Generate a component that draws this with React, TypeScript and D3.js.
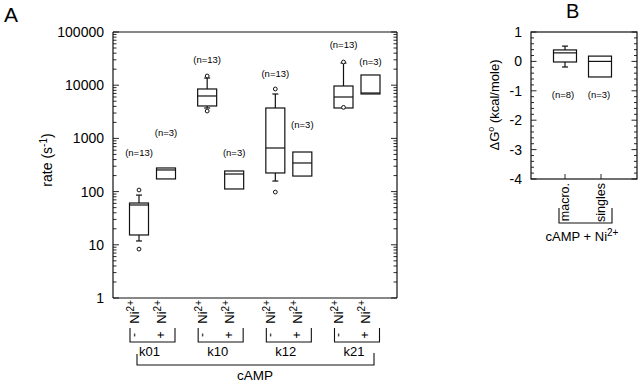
import React from "react";
import * as d3 from "d3";

// ---------- Panel A data ----------
const groups = ["k01", "k10", "k12", "k21"];
const conditions = ["-", "+"];
// boxes in order: k01-, k01+, k10-, k10+, k12-, k12+, k21-, k21+
const rateQ1 = [15.3, 173, 4070, 112, 224, 196, 3730, 6840];
const rateMedian = [56, 255, 6270, 214, 660, 345, 6000, 7130];
const rateQ3 = [61, 278, 8490, 244, 3730, 555, 9660, 15560];
const rateWhiskerLow: (number | null)[] = [11.8, null, 3730, null, 158, null, null, null];
const rateWhiskerHigh: (number | null)[] = [86, null, 13650, null, 6840, null, 26100, null];
const rateOutliers: number[][] = [[107, 8.3], [], [14900, 3270], [], [8490, 98], [], [27300, 3830], []];
const rateN = [13, 3, 13, 3, 13, 3, 13, 3];
const rateNLabelAt = [532, 1318, 29800, 555, 16250, 1786, 57000, 27300];
const rateTickLabels = ["1", "10", "100", "1000", "10000", "100000"];

// ---------- Panel B data ----------
const dgCategories = ["macro.", "singles"];
const dgQ1 = [-0.02, -0.53];
const dgMedian = [0.29, 0.0];
const dgQ3 = [0.39, 0.18];
const dgWhiskerLow: (number | null)[] = [-0.19, null];
const dgWhiskerHigh: (number | null)[] = [0.52, null];
const dgN = [8, 3];
const dgNLabelAt = [-1.14, -1.14];
const dgTickLabels = ["-4", "-3", "-2", "-1", "0", "1"];

const FONT = "'Liberation Sans', Arial, Helvetica, sans-serif";

export default function App() {
  // Panel A scales
  const yA = d3.scaleLog().domain([1, 1e5]).range([298, 32]);
  const xGroup = d3.scalePoint<string>().domain(groups).range([152.5, 357]);
  const xSub = d3.scalePoint<string>().domain(conditions).range([-13.5, 13.5]);
  const aLeft = 113, aRight = 397, aTop = 32, aBottom = 298;
  const boxW = 19;

  const boxesA = groups.flatMap((g, gi) =>
    conditions.map((c, ci) => {
      const i = gi * 2 + ci;
      return { g, c, i, x: (xGroup(g) as number) + (xSub(c) as number) };
    })
  );

  const logTicks = yA.ticks();

  // Panel B scales
  const yB = d3.scaleLinear().domain([-4, 1]).range([179, 32]);
  const xB = d3.scalePoint<string>().domain(dgCategories).range([565, 601]);
  const bLeft = 531, bRight = 637, bTop = 32, bBottom = 179;
  const boxWB = 23;
  const linTicks = d3.range(-4, 1.0001, 0.2).map((v) => Math.round(v * 10) / 10);

  const stroke = "#111";

  const renderBox = (
    key: string,
    x: number,
    w: number,
    q1: number,
    med: number,
    q3: number,
    wl: number | null,
    wh: number | null,
    outs: number[],
    y: (v: number) => number
  ) => (
    <g key={key} stroke={stroke} strokeWidth={1.2} fill="none">
      {wh !== null && (
        <>
          <line x1={x} x2={x} y1={y(q3)} y2={y(wh)} />
          <line x1={x - 3} x2={x + 3} y1={y(wh)} y2={y(wh)} />
        </>
      )}
      {wl !== null && (
        <>
          <line x1={x} x2={x} y1={y(q1)} y2={y(wl)} />
          <line x1={x - 3} x2={x + 3} y1={y(wl)} y2={y(wl)} />
        </>
      )}
      <rect x={x - w / 2} y={y(q3)} width={w} height={y(q1) - y(q3)} />
      <line x1={x - w / 2} x2={x + w / 2} y1={y(med)} y2={y(med)} />
      {outs.map((o, k) => (
        <circle key={k} cx={x} cy={y(o)} r={1.9} strokeWidth={1} fill="white" />
      ))}
    </g>
  );

  return (
    <svg
      width={640}
      height={383}
      style={{ position: "absolute", left: 0, top: 0, background: "white" }}
      fontFamily={FONT}
    >
      <rect width={640} height={383} fill="white" />
      {/* Panel letters */}
      <text x={4} y={22} fontSize={21}>A</text>
      <text x={566} y={18} fontSize={20}>B</text>

      {/* ---------- Panel A ---------- */}
      <g stroke={stroke} strokeWidth={1.2} fill="none">
        <line x1={aLeft} x2={aLeft} y1={aTop} y2={aBottom} />
        <line x1={aRight} x2={aRight} y1={aTop} y2={aBottom} />
        <line x1={aLeft} x2={aRight} y1={aTop} y2={aTop} />
        <line x1={aLeft} x2={aRight} y1={aBottom} y2={aBottom} />
      </g>
      <g stroke={stroke} strokeWidth={0.9}>
        {logTicks.map((t, k) => {
          const major = Math.abs(Math.log10(t) - Math.round(Math.log10(t))) < 1e-9;
          const len = major ? 6 : 3.5;
          return (
            <g key={k}>
              <line x1={aLeft} x2={aLeft + len} y1={yA(t)} y2={yA(t)} />
              <line x1={aRight} x2={aRight - len} y1={yA(t)} y2={yA(t)} />
            </g>
          );
        })}
      </g>
      {rateTickLabels.map((lbl) => (
        <text key={lbl} x={104} y={yA(+lbl)} fontSize={14} textAnchor="end" dominantBaseline="central">
          {lbl}
        </text>
      ))}
      <text transform={`translate(52,160) rotate(-90)`} fontSize={14} textAnchor="middle">
        rate (s
        <tspan fontSize={10} dy={-5}>-1</tspan>
        <tspan dy={5}>)</tspan>
      </text>

      {boxesA.map((b) =>
        renderBox(
          `a${b.i}`,
          b.x,
          boxW,
          rateQ1[b.i],
          rateMedian[b.i],
          rateQ3[b.i],
          rateWhiskerLow[b.i],
          rateWhiskerHigh[b.i],
          rateOutliers[b.i],
          (v) => yA(v)
        )
      )}
      {boxesA.map((b) => (
        <text
          key={`n${b.i}`}
          x={b.x}
          y={yA(rateNLabelAt[b.i])}
          fontSize={9.5}
          textAnchor="middle"
          dominantBaseline="central"
        >
          (n={rateN[b.i]})
        </text>
      ))}

      {/* x labels A */}
      {boxesA.map((b) => (
        <g key={`xl${b.i}`}>
          <text transform={`translate(${b.x - 0.5},300) rotate(-90)`} fontSize={13} textAnchor="end">
            Ni<tspan fontSize={10} dy={-5}>2+</tspan>
          </text>
          <text transform={`translate(${b.x - 1.5},335) rotate(-90)`} fontSize={12} textAnchor="middle">
            {b.c}
          </text>
        </g>
      ))}
      {groups.map((g) => {
        const cx = xGroup(g) as number;
        return (
          <g key={`br${g}`}>
            <path
              d={`M${cx - 22.5},328 V342 H${cx + 22.5} V328`}
              fill="none"
              stroke={stroke}
              strokeWidth={1.1}
            />
            <text x={cx - 3} y={356} fontSize={13} textAnchor="middle">
              {g}
            </text>
          </g>
        );
      })}
      <path
        d={`M${(xGroup("k01") as number) - 15.5},354 V365 H${(xGroup("k21") as number) + 17} V353`}
        fill="none"
        stroke={stroke}
        strokeWidth={1.1}
      />
      <text x={255} y={380} fontSize={13.5} textAnchor="middle">cAMP</text>

      {/* ---------- Panel B ---------- */}
      <g stroke={stroke} strokeWidth={1.2} fill="none">
        <rect x={bLeft} y={bTop} width={bRight - bLeft} height={bBottom - bTop} />
      </g>
      <g stroke={stroke} strokeWidth={0.9}>
        {linTicks.map((t, k) => {
          const major = Math.abs(t - Math.round(t)) < 1e-6;
          const len = major ? 5.5 : 3;
          return (
            <g key={k}>
              <line x1={bLeft} x2={bLeft + len} y1={yB(t)} y2={yB(t)} />
              <line x1={bRight} x2={bRight - len} y1={yB(t)} y2={yB(t)} />
            </g>
          );
        })}
        {dgCategories.map((c) => (
          <line key={c} x1={xB(c) as number} x2={xB(c) as number} y1={bBottom} y2={bBottom - 5} />
        ))}
      </g>
      {dgTickLabels.map((lbl) => (
        <text key={lbl} x={522} y={yB(+lbl)} fontSize={14} textAnchor="end" dominantBaseline="central">
          {lbl}
        </text>
      ))}
      <text transform={`translate(499,105) rotate(-90)`} fontSize={13} textAnchor="middle">
        ΔG<tspan fontSize={9} dy={-5}>o</tspan>
        <tspan dy={5}> (kcal/mole)</tspan>
      </text>
      {dgCategories.map((c, i) =>
        renderBox(
          `b${i}`,
          (xB(c) as number) + (i === 1 ? -1 : 0),
          boxWB,
          dgQ1[i],
          dgMedian[i],
          dgQ3[i],
          dgWhiskerLow[i],
          dgWhiskerHigh[i],
          [],
          (v) => yB(v)
        )
      )}
      {dgCategories.map((c, i) => (
        <text
          key={`bn${i}`}
          x={(xB(c) as number) - 2}
          y={yB(dgNLabelAt[i])}
          fontSize={9.5}
          textAnchor="middle"
          dominantBaseline="central"
        >
          (n={dgN[i]})
        </text>
      ))}
      {dgCategories.map((c) => (
        <text
          key={`bl${c}`}
          transform={`translate(${(xB(c) as number) + 4},183) rotate(-90)`}
          fontSize={12.5}
          textAnchor="end"
        >
          {c}
        </text>
      ))}
      <path d="M559,208 V223 H612 V208" fill="none" stroke={stroke} strokeWidth={1.1} />
      <text x={582} y={241} fontSize={13} textAnchor="middle">
        cAMP + Ni<tspan fontSize={10} dy={-5}>2+</tspan>
      </text>
    </svg>
  );
}
